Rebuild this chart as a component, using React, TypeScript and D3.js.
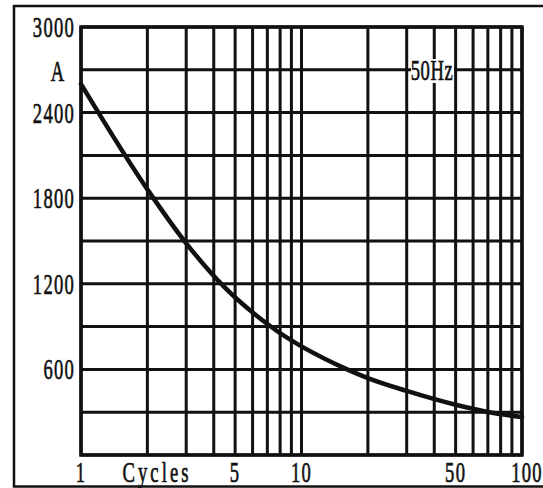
import React from "react";
import * as d3 from "d3";

const cycles = [1, 2, 3, 4.45, 7.2, 16.1, 20, 30, 50, 70, 100];
const amps = [2600, 1862, 1484, 1180, 904, 600, 539, 449, 352, 302, 266];
const xGridValues = [1, 2, 3, 4, 5, 6, 7, 8, 9, 10, 20, 30, 40, 50, 60, 70, 80, 90, 100];
const yGridValues = [0, 300, 600, 900, 1200, 1500, 1800, 2100, 2400, 2700, 3000];
const yLabelValues = [3000, 2400, 1800, 1200, 600];
const xLabelValues = [1, 5, 10, 50, 100];

const W = 543;
const H = 488;
const FONT = "'Liberation Serif', 'Times New Roman', serif";

function CText({ x, y, children, anchor = "middle", ls = 2 }: any) {
  return (
    <text
      transform={`translate(${x},${y}) scale(0.62,1)`}
      textAnchor={anchor}
      fontFamily={FONT}
      fontSize={30}
      letterSpacing={ls}
      fill="#111"
      stroke="#111"
      strokeWidth={0.7}
    >
      {children}
    </text>
  );
}

export default function App() {
  const x = d3.scaleLog().domain([1, 100]).range([81, 522]);
  const y = d3.scaleLinear().domain([0, 3000]).range([455, 27]);
  const pts = cycles.map((c, i) => [x(c), y(amps[i])] as [number, number]);
  const line = d3.line().curve(d3.curveMonotoneX)(pts) || "";

  return (
    <svg
      width={W}
      height={H}
      style={{ position: "absolute", left: 0, top: 0, background: "#fff" }}
    >
      <rect x={0} y={0} width={W} height={H} fill="#fff" />
      <rect x={14} y={6} width={560} height={480.5} fill="none" stroke="#111" strokeWidth={2.5} />
      {xGridValues.map((v) => (
        <line key={"x" + v} x1={x(v)} x2={x(v)} y1={y(0)} y2={y(3000)} stroke="#111" strokeWidth={3} />
      ))}
      {yGridValues.map((v) => (
        <line key={"y" + v} x1={x(1)} x2={x(100)} y1={y(v)} y2={y(v)} stroke="#111" strokeWidth={3} />
      ))}
      <rect
        x={x(1)}
        y={y(3000)}
        width={x(100) - x(1)}
        height={y(0) - y(3000)}
        fill="none"
        stroke="#111"
        strokeWidth={3.5}
      />
      <path d={line} fill="none" stroke="#111" strokeWidth={4.5} strokeLinecap="round" />

      <rect x={411} y={59} width={43} height={24} fill="#fff" />
      <CText x={432} y={80} ls={1}>50Hz</CText>

      {yLabelValues.map((v) => (
        <CText key={"yl" + v} x={75} y={y(v) + 10} anchor="end">
          {v}
        </CText>
      ))}
      <CText x={58} y={y(2700) + 11}>A</CText>

      {xLabelValues.map((v) => (
        <CText key={"xl" + v} x={x(v) + (v === 100 ? 5 : 0)} y={482}>
          {v}
        </CText>
      ))}
      <CText x={157} y={482} ls={5}>Cycles</CText>
    </svg>
  );
}
